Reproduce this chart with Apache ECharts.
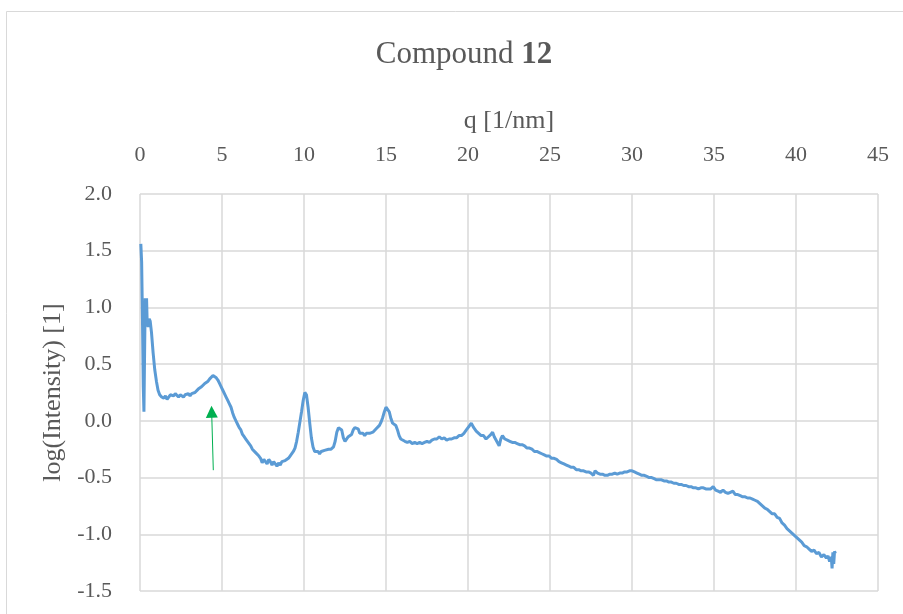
<!DOCTYPE html>
<html>
<head>
<meta charset="utf-8">
<script src="https://cdn.jsdelivr.net/npm/echarts@6/dist/echarts.min.js"></script>
<style>
  html, body { margin: 0; padding: 0; background: #fff; }
  #chart { width: 903px; height: 614px; }
</style>
</head>
<body>
<div id="chart"></div>
<script>
var chart = echarts.init(document.getElementById('chart'));

// q [1/nm]
const qValues = [
    0.05, 0.10, 0.15, 0.20, 0.24, 0.28, 0.32, 0.36, 0.40, 0.44, 0.50, 0.56, 0.62, 0.70, 0.80, 0.90,
    1.00, 1.10, 1.20, 1.32, 1.45, 1.55, 1.65, 1.75, 1.85, 1.95, 2.05, 2.15, 2.25, 2.35, 2.45, 2.55,
    2.65, 2.75, 2.85, 2.95, 3.05, 3.15, 3.25, 3.35, 3.45, 3.55, 3.65, 3.75, 3.85, 3.95, 4.05, 4.15,
    4.25, 4.35, 4.45, 4.55, 4.65, 4.75, 4.85, 4.95, 5.05, 5.15, 5.25, 5.35, 5.45, 5.55, 5.65, 5.75,
    5.85, 5.95, 6.05, 6.15, 6.25, 6.35, 6.45, 6.55, 6.65, 6.75, 6.85, 6.95, 7.05, 7.15, 7.25, 7.35,
    7.45, 7.55, 7.65, 7.75, 7.85, 7.95, 8.05, 8.15, 8.25, 8.35, 8.45, 8.55, 8.65, 8.75, 8.85, 8.95,
    9.05, 9.15, 9.25, 9.35, 9.45, 9.55, 9.65, 9.75, 9.85, 9.95, 10.05, 10.15, 10.25, 10.35, 10.45, 10.55,
    10.65, 10.75, 10.85, 10.95, 11.05, 11.15, 11.25, 11.35, 11.50, 11.65, 11.80, 11.90, 12.00, 12.10, 12.20, 12.30,
    12.40, 12.50, 12.60, 12.70, 12.80, 12.90, 13.00, 13.10, 13.20, 13.30, 13.40, 13.50, 13.60, 13.70, 13.80, 13.90,
    14.00, 14.10, 14.20, 14.30, 14.40, 14.50, 14.60, 14.70, 14.80, 14.90, 15.00, 15.10, 15.20, 15.30, 15.40, 15.50,
    15.60, 15.70, 15.80, 15.90, 16.00, 16.15, 16.30, 16.45, 16.60, 16.75, 16.90, 17.05, 17.20, 17.35, 17.50, 17.65,
    17.80, 17.95, 18.10, 18.25, 18.40, 18.55, 18.70, 18.85, 19.00, 19.15, 19.30, 19.45, 19.60, 19.75, 19.90, 20.05,
    20.20, 20.35, 20.50, 20.65, 20.80, 20.95, 21.10, 21.25, 21.40, 21.50, 21.60, 21.75, 21.90, 22.00, 22.10, 22.25,
    22.40, 22.55, 22.70, 22.85, 23.00, 23.15, 23.30, 23.45, 23.60, 23.75, 23.90, 24.05, 24.20, 24.35, 24.50, 24.65,
    24.80, 24.95, 25.10, 25.25, 25.40, 25.55, 25.70, 25.85, 26.00, 26.15, 26.30, 26.45, 26.60, 26.75, 26.90, 27.05,
    27.20, 27.35, 27.50, 27.65, 27.75, 27.90, 28.05, 28.20, 28.35, 28.50, 28.65, 28.80, 28.95, 29.10, 29.25, 29.40,
    29.55, 29.70, 29.85, 30.00, 30.15, 30.30, 30.45, 30.60, 30.75, 30.90, 31.05, 31.20, 31.35, 31.50, 31.65, 31.80,
    31.95, 32.10, 32.25, 32.40, 32.55, 32.70, 32.85, 33.00, 33.15, 33.30, 33.45, 33.60, 33.75, 33.90, 34.05, 34.20,
    34.35, 34.50, 34.65, 34.80, 34.95, 35.10, 35.25, 35.40, 35.55, 35.70, 35.85, 36.00, 36.15, 36.30, 36.45, 36.60,
    36.75, 36.90, 37.05, 37.20, 37.35, 37.50, 37.65, 37.80, 37.95, 38.10, 38.25, 38.40, 38.55, 38.70, 38.85, 39.00,
    39.15, 39.30, 39.45, 39.60, 39.75, 39.90, 40.05, 40.20, 40.35, 40.50, 40.65, 40.80, 40.95, 41.10, 41.25, 41.40,
    41.55, 41.70, 41.85, 41.95, 42.05, 42.15, 42.20, 42.25, 42.30, 42.35, 42.40
];

// log(Intensity) [1]
const logIntensity = [
    1.56, 1.40, 0.90, 0.30, 0.08, 0.60, 1.08, 0.95, 1.08, 0.85, 0.83, 0.90, 0.88, 0.78, 0.60, 0.45,
    0.35, 0.27, 0.23, 0.21, 0.20, 0.22, 0.19, 0.21, 0.23, 0.24, 0.22, 0.24, 0.23, 0.21, 0.23, 0.22,
    0.21, 0.23, 0.22, 0.24, 0.22, 0.24, 0.23, 0.25, 0.26, 0.28, 0.27, 0.30, 0.31, 0.33, 0.33, 0.35,
    0.37, 0.38, 0.40, 0.40, 0.38, 0.36, 0.33, 0.30, 0.27, 0.24, 0.21, 0.18, 0.15, 0.12, 0.07, 0.03,
    0.00, -0.03, -0.06, -0.08, -0.12, -0.14, -0.16, -0.18, -0.20, -0.22, -0.25, -0.26, -0.28, -0.29, -0.31, -0.33,
    -0.37, -0.34, -0.35, -0.38, -0.34, -0.36, -0.39, -0.36, -0.38, -0.40, -0.37, -0.39, -0.36, -0.37, -0.35, -0.34,
    -0.33, -0.31, -0.30, -0.27, -0.24, -0.18, -0.10, -0.01, 0.08, 0.18, 0.25, 0.23, 0.12, -0.02, -0.15, -0.23,
    -0.27, -0.28, -0.27, -0.29, -0.27, -0.28, -0.26, -0.27, -0.25, -0.25, -0.23, -0.18, -0.10, -0.06, -0.05, -0.08,
    -0.15, -0.18, -0.17, -0.14, -0.15, -0.12, -0.08, -0.06, -0.06, -0.07, -0.11, -0.12, -0.11, -0.13, -0.11, -0.12,
    -0.11, -0.11, -0.10, -0.09, -0.07, -0.06, -0.04, -0.01, 0.03, 0.08, 0.12, 0.13, 0.08, 0.02, -0.02, -0.03,
    -0.04, -0.08, -0.13, -0.16, -0.17, -0.18, -0.19, -0.18, -0.20, -0.19, -0.20, -0.19, -0.20, -0.19, -0.18, -0.19,
    -0.17, -0.16, -0.16, -0.14, -0.16, -0.15, -0.17, -0.16, -0.16, -0.15, -0.15, -0.13, -0.13, -0.11, -0.08, -0.05,
    -0.02, -0.06, -0.09, -0.11, -0.13, -0.13, -0.16, -0.14, -0.12, -0.10, -0.14, -0.18, -0.22, -0.16, -0.13, -0.16,
    -0.17, -0.18, -0.19, -0.19, -0.20, -0.21, -0.21, -0.22, -0.24, -0.24, -0.25, -0.27, -0.27, -0.28, -0.29, -0.30,
    -0.31, -0.31, -0.33, -0.33, -0.34, -0.36, -0.37, -0.38, -0.39, -0.40, -0.41, -0.41, -0.43, -0.43, -0.44, -0.44,
    -0.45, -0.45, -0.46, -0.48, -0.44, -0.46, -0.47, -0.47, -0.48, -0.48, -0.47, -0.47, -0.46, -0.47, -0.46, -0.46,
    -0.45, -0.45, -0.44, -0.44, -0.45, -0.46, -0.47, -0.48, -0.48, -0.49, -0.50, -0.50, -0.51, -0.52, -0.52, -0.52,
    -0.53, -0.53, -0.54, -0.54, -0.55, -0.55, -0.56, -0.56, -0.57, -0.57, -0.58, -0.58, -0.59, -0.59, -0.60, -0.59,
    -0.59, -0.60, -0.60, -0.60, -0.58, -0.61, -0.62, -0.63, -0.61, -0.63, -0.64, -0.63, -0.62, -0.65, -0.65, -0.66,
    -0.67, -0.67, -0.68, -0.68, -0.69, -0.70, -0.71, -0.73, -0.75, -0.77, -0.78, -0.80, -0.82, -0.82, -0.85, -0.86,
    -0.90, -0.92, -0.95, -0.97, -0.99, -1.01, -1.03, -1.05, -1.07, -1.10, -1.11, -1.13, -1.15, -1.14, -1.17, -1.16,
    -1.20, -1.18, -1.21, -1.19, -1.24, -1.20, -1.30, -1.16, -1.26, -1.15, -1.17
];

// green arrow marking the shoulder: tail -> tip, in data units
const arrowTail = [4.47, -0.435];
const arrowTip = [4.37, 0.08];

const xTicks = { min: 0, max: 45, interval: 5 };
const yTicks = { min: -1.5, max: 2.0, interval: 0.5 };

const seriesData = qValues.map(function (q, i) { return [q, logIntensity[i]]; });

const font = 'Liberation Serif';
const textGray = '#595959';
const gridGray = '#d9d9d9';

chart.setOption({
    animation: false,
    backgroundColor: '#ffffff',
    title: {
        text: '{a|Compound }{b|12}',
        left: 459,
        top: 34,
        textAlign: 'center',
        textStyle: {
            fontWeight: 'normal',
            rich: {
                a: { fontFamily: font, fontSize: 31, color: textGray, fontWeight: 'normal' },
                b: { fontFamily: font, fontSize: 31, color: textGray, fontWeight: 'bold' }
            }
        }
    },
    graphic: [{
        type: 'rect',
        shape: { x: 6.5, y: 11.5, width: 940, height: 640 },
        style: { fill: 'none', stroke: gridGray, lineWidth: 1 },
        silent: true
    }],
    grid: {
        left: 140,
        right: 25,
        top: 194,
        bottom: 23
    },
    xAxis: {
        type: 'value',
        position: 'top',
        min: xTicks.min,
        max: xTicks.max,
        interval: xTicks.interval,
        name: 'q [1/nm]',
        nameLocation: 'middle',
        nameGap: 60,
        nameTextStyle: { fontFamily: font, fontSize: 26, color: textGray },
        axisLine: { show: false },
        axisTick: { show: false },
        axisLabel: { fontFamily: font, fontSize: 22, color: textGray, margin: 28 },
        splitLine: { show: true, lineStyle: { color: gridGray, width: 1.5 } }
    },
    yAxis: {
        type: 'value',
        min: yTicks.min,
        max: yTicks.max,
        interval: yTicks.interval,
        name: 'log(Intensity) [1]',
        nameLocation: 'middle',
        nameGap: 72,
        nameTextStyle: { fontFamily: font, fontSize: 26, color: textGray },
        axisLine: { show: false },
        axisTick: { show: false },
        axisLabel: {
            fontFamily: font,
            fontSize: 22,
            color: textGray,
            margin: 28,
            formatter: function (v) { return v.toFixed(1); }
        },
        splitLine: { show: true, lineStyle: { color: gridGray, width: 1.5 } }
    },
    series: [{
        name: 'Compound 12',
        type: 'line',
        data: seriesData,
        showSymbol: false,
        smooth: false,
        lineStyle: { color: '#5b9bd5', width: 3 },
        itemStyle: { color: '#5b9bd5' },
        markLine: {
            silent: true,
            animation: false,
            symbol: ['none', 'triangle'],
            symbolSize: [12, 12],
            label: { show: false },
            lineStyle: { color: '#00b050', width: 1, type: 'solid' },
            data: [[
                { coord: arrowTail },
                { coord: arrowTip }
            ]]
        }
    }]
});

window.addEventListener('resize', function () {
    chart.resize();
});
</script>
</body>
</html>
